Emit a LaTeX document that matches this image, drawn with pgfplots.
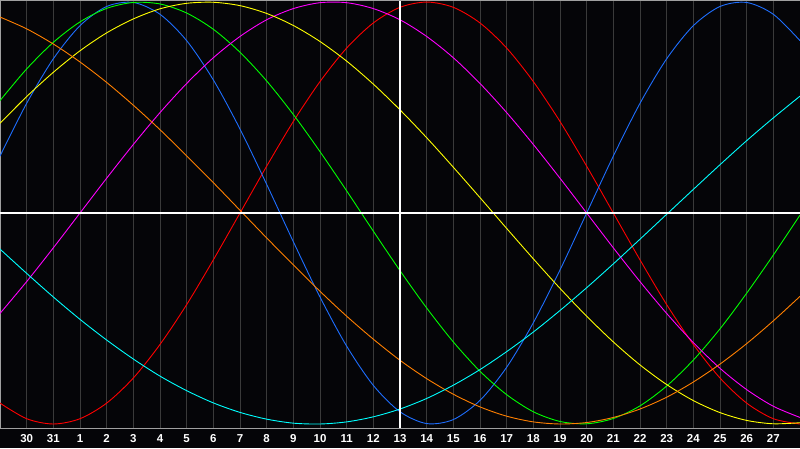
\documentclass[border=0pt]{standalone}
\usepackage{pgfplots}
\pgfplotsset{compat=1.18}
\usepackage{fontspec}
\setmainfont{Liberation Sans}
\definecolor{bg}{HTML}{050508}
\definecolor{gridc}{HTML}{3A3A3A}
\definecolor{framec}{HTML}{A0A0A0}
\definecolor{cRed}{HTML}{FF0000}
\definecolor{cBlue}{HTML}{1E6EFF}
\definecolor{cGreen}{HTML}{00FF00}
\definecolor{cMag}{HTML}{FF00FF}
\definecolor{cYel}{HTML}{FFFF00}
\definecolor{cOra}{HTML}{FF7F00}
\definecolor{cCyan}{HTML}{00FFFF}
\begin{document}
\begin{tikzpicture}
\fill[bg] (0,0) rectangle (800pt,448pt);
\useasboundingbox (0,0) rectangle (800pt,448pt);
\begin{axis}[
  at={(0pt,20pt)}, anchor=south west,
  scale only axis, width=800pt, height=427pt,
  xmin=0, xmax=30, ymin=-1.019, ymax=1.005,
  xtick={1,...,29},
  xticklabels={30,31,1,2,3,4,5,6,7,8,9,10,11,12,13,14,15,16,17,18,19,20,21,22,23,24,25,26,27},
  ytick=\empty,
  major tick length=0pt,
  xmajorgrids,
  grid style={gridc, line width=1pt},
  axis line style={framec, line width=1pt},
  xticklabel style={text=white, font=\bfseries\fontsize{11.5}{12}\selectfont, yshift=-3pt},
  every axis plot/.append style={line width=0.9pt, no markers, smooth},
]
% Red (28)
\addplot[cRed] coordinates {
(0,-0.901) (1,-0.975) (2,-1) (3,-0.975) (4,-0.901) (5,-0.782) (6,-0.623) (7,-0.434) (8,-0.222) (9,0) (10,0.222) (11,0.434) (12,0.623) (13,0.782) (14,0.901) (15,0.975) (16,1) (17,0.975) (18,0.901) (19,0.782) (20,0.623) (21,0.434) (22,0.222) (23,0) (24,-0.222) (25,-0.434) (26,-0.623) (27,-0.782) (28,-0.901) (29,-0.975) (30,-1)};
% Blue (23)
\addplot[cBlue] coordinates {
(0,0.270) (1,0.520) (2,0.731) (3,0.888) (4,0.979) (5,0.998) (6,0.942) (7,0.817) (8,0.631) (9,0.398) (10,0.136) (11,-0.136) (12,-0.398) (13,-0.631) (14,-0.817) (15,-0.942) (16,-0.998) (17,-0.979) (18,-0.888) (19,-0.731) (20,-0.520) (21,-0.270) (22,0) (23,0.270) (24,0.520) (25,0.731) (26,0.888) (27,0.979) (28,0.998) (29,0.942) (30,0.817)};
% Green (33)
\addplot[cGreen] coordinates {
(0,0.533) (1,0.683) (2,0.809) (3,0.906) (4,0.970) (5,0.998) (6,0.991) (7,0.948) (8,0.871) (9,0.762) (10,0.626) (11,0.467) (12,0.291) (13,0.105) (14,-0.086) (15,-0.273) (16,-0.450) (17,-0.611) (18,-0.750) (19,-0.861) (20,-0.942) (21,-0.988) (22,-0.999) (23,-0.974) (24,-0.914) (25,-0.820) (26,-0.697) (27,-0.549) (28,-0.380) (29,-0.199) (30,-0.010)};
% Magenta (38)
\addplot[cMag] coordinates {
(0,-0.476) (1,-0.325) (2,-0.165) (3,0) (4,0.165) (5,0.325) (6,0.476) (7,0.614) (8,0.736) (9,0.837) (10,0.916) (11,0.969) (12,0.997) (13,0.997) (14,0.969) (15,0.916) (16,0.837) (17,0.736) (18,0.614) (19,0.476) (20,0.325) (21,0.165) (22,0) (23,-0.165) (24,-0.325) (25,-0.476) (26,-0.614) (27,-0.736) (28,-0.837) (29,-0.916) (30,-0.969)};
% Yellow (43)
\addplot[cYel] coordinates {
(0,0.425) (1,0.552) (2,0.667) (3,0.769) (4,0.854) (5,0.920) (6,0.968) (7,0.994) (8,0.999) (9,0.983) (10,0.946) (11,0.889) (12,0.813) (13,0.720) (14,0.611) (15,0.489) (16,0.357) (17,0.217) (18,0.073) (19,-0.073) (20,-0.217) (21,-0.357) (22,-0.489) (23,-0.611) (24,-0.720) (25,-0.813) (26,-0.889) (27,-0.946) (28,-0.983) (29,-0.999) (30,-0.994)};
% Orange (48)
\addplot[cOra] coordinates {
(0,0.929) (1,0.873) (2,0.801) (3,0.716) (4,0.619) (5,0.511) (6,0.395) (7,0.271) (8,0.144) (9,0.013) (10,-0.118) (11,-0.246) (12,-0.371) (13,-0.489) (14,-0.598) (15,-0.698) (16,-0.785) (17,-0.859) (18,-0.919) (19,-0.963) (20,-0.990) (21,-1.000) (22,-0.993) (23,-0.969) (24,-0.929) (25,-0.873) (26,-0.801) (27,-0.716) (28,-0.619) (29,-0.511) (30,-0.395)};
% Cyan (53)
\addplot[cCyan] coordinates {
(0,-0.171) (1,-0.286) (2,-0.398) (3,-0.504) (4,-0.602) (5,-0.692) (6,-0.773) (7,-0.842) (8,-0.900) (9,-0.945) (10,-0.977) (11,-0.996) (12,-1.000) (13,-0.990) (14,-0.966) (15,-0.929) (16,-0.879) (17,-0.816) (18,-0.742) (19,-0.657) (20,-0.564) (21,-0.462) (22,-0.354) (23,-0.241) (24,-0.124) (25,-0.006) (26,0.112) (27,0.229) (28,0.343) (29,0.451) (30,0.554)};
\draw[white, line width=1.6pt] (axis cs:15,-1.019) -- (axis cs:15,1.005);
\draw[white, line width=1.6pt] (axis cs:0,0) -- (axis cs:30,0);
\end{axis}
\end{tikzpicture}
\end{document}
